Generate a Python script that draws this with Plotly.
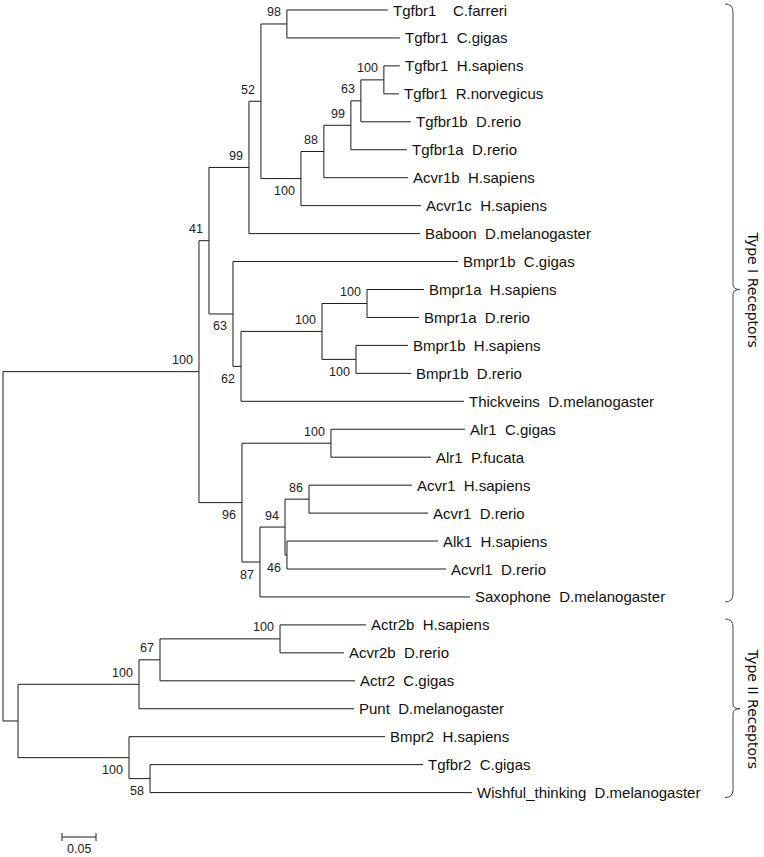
import plotly.graph_objects as go

# ---------------- data ----------------
# internal nodes of the tree (branch lengths in substitutions/site)
node_ids = ["root", "T1", "T2", "n41", "n96", "n99", "n63", "n52", "n98", "n100a",
            "n88", "n99b", "n63b", "n100c", "n62", "n100d", "n100e", "n100f", "n100g",
            "n87", "n94", "n86", "n46", "n100h", "n67", "n100i", "n100j", "n58"]
node_parent = [None, "root", "root", "T1", "T1", "n41", "n41", "n99", "n52", "n52",
               "n100a", "n88", "n99b", "n63b", "n63", "n62", "n100d", "n100d", "n96",
               "n96", "n87", "n94", "n94", "T2", "n100h", "n67", "T2", "n100j"]
node_length = [0.0, 0.2882, 0.0221, 0.0147, 0.0632, 0.0588, 0.0353, 0.0176, 0.0382, 0.0588,
               0.0338, 0.0397, 0.0147, 0.0338, 0.0118, 0.1191, 0.0662, 0.0500, 0.1309,
               0.0265, 0.0368, 0.0353, 0.0029, 0.1779, 0.0309, 0.1765, 0.1632, 0.0309]
node_support = [None, 100, None, 41, 96, 99, 63, 52, 98, 100,
                88, 99, 63, 100, 62, 100, 100, 100, 100,
                87, 94, 86, 46, 100, 67, 100, 100, 58]

# leaves (top to bottom)
leaf_names = ["Tgfbr1    C.farreri", "Tgfbr1  C.gigas", "Tgfbr1  H.sapiens",
              "Tgfbr1  R.norvegicus", "Tgfbr1b  D.rerio", "Tgfbr1a  D.rerio",
              "Acvr1b  H.sapiens", "Acvr1c  H.sapiens", "Baboon  D.melanogaster",
              "Bmpr1b  C.gigas", "Bmpr1a  H.sapiens", "Bmpr1a  D.rerio",
              "Bmpr1b  H.sapiens", "Bmpr1b  D.rerio", "Thickveins  D.melanogaster",
              "Alr1  C.gigas", "Alr1  P.fucata", "Acvr1  H.sapiens", "Acvr1  D.rerio",
              "Alk1  H.sapiens", "Acvrl1  D.rerio", "Saxophone  D.melanogaster",
              "Actr2b  H.sapiens", "Acvr2b  D.rerio", "Actr2  C.gigas",
              "Punt  D.melanogaster", "Bmpr2  H.sapiens", "Tgfbr2  C.gigas",
              "Wishful_thinking  D.melanogaster"]
leaf_parent = ["n98", "n98", "n100c", "n100c", "n63b", "n99b", "n88", "n100a", "n99",
               "n63", "n100e", "n100e", "n100f", "n100f", "n62", "n100g", "n100g",
               "n86", "n86", "n46", "n46", "n87", "n100i", "n100i", "n67", "n100h",
               "n100j", "n58", "n58"]
leaf_length = [0.1485, 0.1662, 0.0235, 0.0221, 0.0735, 0.0824, 0.1235, 0.1765, 0.2515,
               0.3309, 0.0838, 0.0765, 0.0765, 0.0809, 0.3279, 0.1971, 0.1471,
               0.1515, 0.1750, 0.2221, 0.2338, 0.3088, 0.1265, 0.0941, 0.2868, 0.3162,
               0.3765, 0.4015, 0.4735]

# receptor groups (leaf index ranges)
group_names = ["Type I Receptors", "Type II Receptors"]
group_first = [0, 22]
group_last = [21, 28]
group_tip = [10, 25]

scale_value = 0.05
scale_label = "0.05"

# ---------------- geometry helpers ----------------
W, H = 764, 857
PX_PER_UNIT = 680.0
ROW_PX = 27.95
X0_PX, Y0_PX = 3.0, 10.0
x_range = [-X0_PX / PX_PER_UNIT, (W - X0_PX) / PX_PER_UNIT]
y_range = [(H - Y0_PX) / ROW_PX, -Y0_PX / ROW_PX]

def dx(px):
    return px / PX_PER_UNIT

def dy(px):
    return px / ROW_PX

# ---------------- build tree coordinates ----------------
depth = {}
for nid, par, bl in zip(node_ids, node_parent, node_length):
    depth[nid] = 0.0 if par is None else depth[par] + bl

children = {nid: [] for nid in node_ids}
for nid, par in zip(node_ids, node_parent):
    if par is not None:
        children[par].append(nid)
ypos = {}
for i, (name, par, bl) in enumerate(zip(leaf_names, leaf_parent, leaf_length)):
    key = "leaf%d" % i
    depth[key] = depth[par] + bl
    ypos[key] = float(i)
    children[par].append(key)

def get_y(n):
    if n in ypos:
        return ypos[n]
    ys = [get_y(c) for c in children[n]]
    ypos[n] = (min(ys) + max(ys)) / 2.0
    return ypos[n]

get_y("root")

xs, ys = [], []
for n in node_ids:
    cys = [ypos[c] for c in children[n]]
    xs += [depth[n], depth[n], None]
    ys += [min(cys), max(cys), None]
    for c in children[n]:
        xs += [depth[n], depth[c], None]
        ys += [ypos[c], ypos[c], None]

fig = go.Figure()
fig.add_trace(go.Scatter(x=xs, y=ys, mode="lines",
                         line=dict(color="#1a1a1a", width=1),
                         hoverinfo="skip", showlegend=False))

annotations = []
LABEL_FONT = dict(family="Liberation Sans, Arial, sans-serif", size=15, color="#111111")
BOOT_FONT = dict(family="Liberation Sans, Arial, sans-serif", size=12.5, color="#222222")

for i, name in enumerate(leaf_names):
    key = "leaf%d" % i
    annotations.append(dict(x=depth[key], y=ypos[key], xref="x", yref="y",
                            text=name.replace(" ", "\u00a0"), showarrow=False,
                            xanchor="left", yanchor="middle", xshift=3,
                            font=LABEL_FONT))

parent_of = dict(zip(node_ids, node_parent))
for nid, sup in zip(node_ids, node_support):
    if sup is None:
        continue
    par = parent_of[nid]
    above = ypos[nid] <= ypos[par]
    annotations.append(dict(x=depth[nid], y=ypos[nid], xref="x", yref="y",
                            text=str(sup), showarrow=False,
                            xanchor="right", yanchor="middle", xshift=-4,
                            yshift=11.5 if above else -12.5,
                            font=BOOT_FONT))

# ---------------- braces for receptor groups ----------------
shapes = []
bx = dx(730)      # vertical part of brace
bend = dx(722)    # curled ends
btip = dx(737)    # tip of brace
r_end = dy(8)
r_tip = dy(5)
for name, f, l, t in zip(group_names, group_first, group_last, group_tip):
    top = f - dy(6)
    bot = l + dy(5)
    path = (f"M {bend},{top} Q {bx},{top} {bx},{top + r_end} "
            f"L {bx},{t - r_tip} Q {bx},{t} {btip},{t} "
            f"Q {bx},{t} {bx},{t + r_tip} "
            f"L {bx},{bot - r_end} Q {bx},{bot} {bend},{bot}")
    shapes.append(dict(type="path", path=path, xref="x", yref="y",
                       line=dict(color="#444444", width=1)))
    annotations.append(dict(x=dx(750), y=t, xref="x", yref="y", text=name,
                            showarrow=False, textangle=90,
                            xanchor="center", yanchor="middle",
                            font=dict(family="DejaVu Sans, Verdana, sans-serif",
                                      size=14, color="#111111")))

# ---------------- scale bar ----------------
sb_x0 = dx(59)
sb_y = dy(827)
tick = dy(4)
shapes.append(dict(type="line", xref="x", yref="y", x0=sb_x0, x1=sb_x0 + scale_value,
                   y0=sb_y, y1=sb_y, line=dict(color="#1a1a1a", width=1)))
for xe in (sb_x0, sb_x0 + scale_value):
    shapes.append(dict(type="line", xref="x", yref="y", x0=xe, x1=xe,
                       y0=sb_y - tick, y1=sb_y + tick, line=dict(color="#1a1a1a", width=1)))
annotations.append(dict(x=sb_x0 + scale_value / 2, y=sb_y, xref="x", yref="y",
                        text=scale_label, showarrow=False, yshift=-12,
                        xanchor="center", yanchor="middle", font=BOOT_FONT))

fig.update_layout(
    width=W, height=H,
    margin=dict(l=0, r=0, t=0, b=0),
    paper_bgcolor="white", plot_bgcolor="white",
    xaxis=dict(range=x_range, visible=False, fixedrange=True),
    yaxis=dict(range=y_range, visible=False, fixedrange=True),
    shapes=shapes, annotations=annotations,
    hovermode=False, showlegend=False,
)

fig.write_html("out.html", config={"displayModeBar": False},
               post_script="document.body.style.margin='0px';document.body.style.overflow='hidden';")
